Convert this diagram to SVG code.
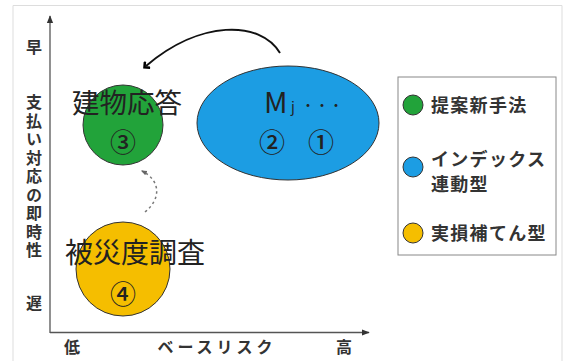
<svg xmlns="http://www.w3.org/2000/svg" width="569" height="361" viewBox="0 0 569 361">
<style>
text{font-family:"Noto Sans CJK JP","Noto Sans",sans-serif;fill:#222}
.ax{font-size:16px;font-weight:bold;fill:#333;text-anchor:middle}
.big{font-size:27.5px;text-anchor:middle}
.num{font-size:26px;text-anchor:middle;font-weight:500}
.lg{font-size:18px;font-weight:bold;fill:#333;letter-spacing:1.3px}
.node{stroke:#333;stroke-width:1}
</style>
<defs>
<marker id="tri" viewBox="0 0 10 10" refX="9" refY="5" markerWidth="6" markerHeight="6" orient="auto"><path d="M0,1 L10,5 L0,9 z" fill="#333"/></marker>
<marker id="chev" viewBox="0 0 10 10" refX="3" refY="5" markerWidth="5" markerHeight="5" orient="auto" markerUnits="strokeWidth"><path d="M1,1 L5,5 L1,9" fill="none" stroke="#000" stroke-width="2.5"/></marker>
<marker id="dtri" viewBox="0 0 10 10" refX="8" refY="5" markerWidth="4" markerHeight="4" orient="auto" markerUnits="strokeWidth"><path d="M0,1 L10,5 L0,9 z" fill="#666"/></marker>
</defs>
<rect width="569" height="361" fill="#fff"/>
<path d="M13,361 V5.5 H562 V361" fill="none" stroke="#ddd" stroke-width="1"/>
<g id="axes">
<line x1="50" y1="333" x2="50" y2="16" stroke="#555" stroke-width="1.3" marker-end="url(#tri)"/>
<line x1="50" y1="332.5" x2="369" y2="332.5" stroke="#555" stroke-width="1.3" marker-end="url(#tri)"/>
<text class="ax" x="34" y="53">早</text>
<text class="ax" x="34" y="94" style="writing-mode:vertical-rl;text-anchor:start;letter-spacing:2.5px">支払い対応の即時性</text>
<text class="ax" x="34" y="309">遅</text>
<text class="ax" x="72" y="353">低</text>
<text class="ax" x="217" y="353" style="letter-spacing:4px">ベースリスク</text>
<text class="ax" x="344" y="353">高</text>
</g>
<g id="connectors">
<path d="M280,53 C260,20 200,20 146,66" fill="none" stroke="#111" stroke-width="2" marker-end="url(#chev)"/>
<path d="M145,212 C162,198 160,180 142,171" fill="none" stroke="#777" stroke-width="1.5" stroke-dasharray="2.5,3" marker-end="url(#dtri)"/>
</g>
<g id="node-index">
<ellipse class="node" cx="288" cy="123" rx="91" ry="57" fill="#1c9de3"/>
<text x="264" y="113" style="font-size:29px">M</text>
<text x="291" y="112" style="font-size:14px">j</text>
<text x="301" y="110" style="font-size:14px">・・・</text>
<text class="num" x="272" y="152">②</text>
<text class="num" x="321" y="152">①</text>
</g>
<g id="node-proposed">
<circle class="node" cx="123" cy="125" r="40" fill="#22a33a"/>
<text class="big" x="127" y="113">建物応答</text>
<text class="num" x="123" y="152">③</text>
</g>
<g id="node-damage">
<circle class="node" cx="123" cy="269" r="47" fill="#f5be00"/>
<text class="big" x="135" y="263" style="font-size:28px">被災度調査</text>
<text class="num" x="123" y="304">④</text>
</g>
<g id="legend">
<rect x="398" y="77" width="158" height="178" fill="#fff" stroke="#888" stroke-width="1"/>
<circle class="node" cx="413" cy="105" r="10" fill="#22a33a"/>
<text class="lg" x="431" y="112">提案新手法</text>
<circle class="node" cx="413" cy="167" r="10" fill="#1c9de3"/>
<text class="lg" x="431" y="166">インデックス</text>
<text class="lg" x="431" y="191">連動型</text>
<circle class="node" cx="413" cy="233" r="10" fill="#f5be00"/>
<text class="lg" x="431" y="240">実損補てん型</text>
</g>
</svg>
